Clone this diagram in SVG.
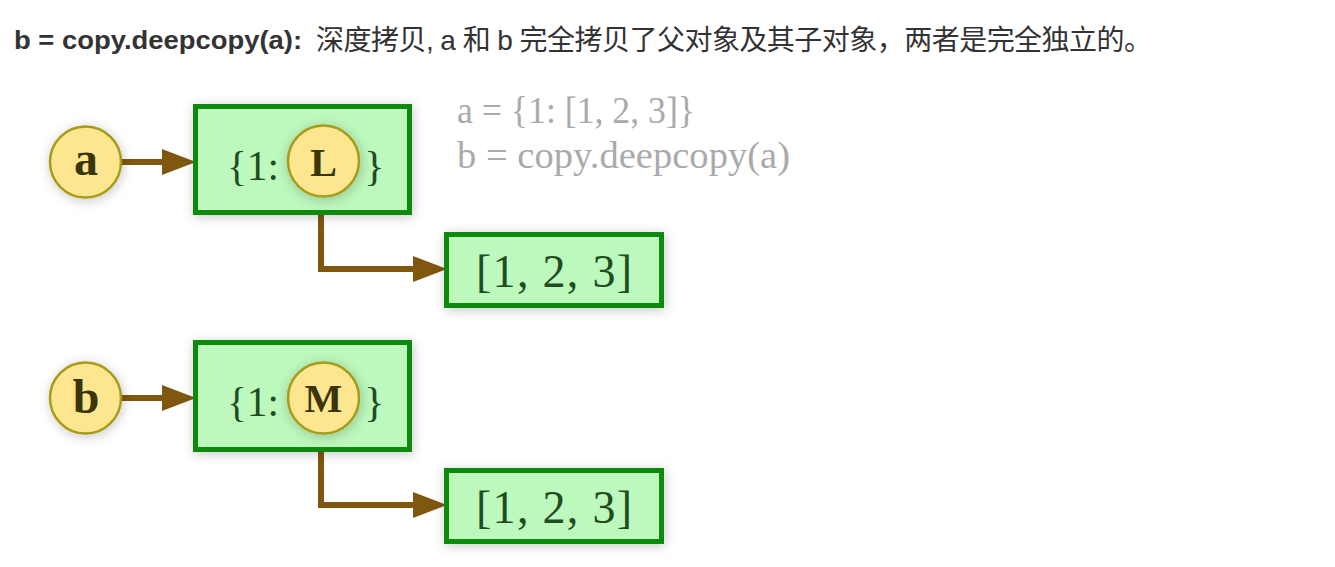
<svg xmlns="http://www.w3.org/2000/svg" width="1335" height="567" viewBox="0 0 1335 567">
<style>
.hdr{font-family:"Liberation Sans","Noto Sans CJK SC",sans-serif;fill:#333;}
.box{fill:#bdf8bd;stroke:#0b8a0b;stroke-width:5;filter:url(#sh);}
.ref{fill:#fde68f;stroke:#a69c1a;stroke-width:2.5;filter:url(#sh);}
.reft{font-family:"Liberation Serif",serif;font-weight:bold;fill:#3a3608;text-anchor:middle;}
.boxt{font-family:"Liberation Serif",serif;fill:#1f4d1f;}
.note{font-family:"Liberation Serif",serif;font-size:37px;fill:#aaaaaa;}
.conn{fill:none;stroke:#80570f;stroke-width:6;marker-end:url(#ah);}
</style>
<defs>
<filter id="sh" x="-30%" y="-30%" width="160%" height="160%">
<feDropShadow dx="1" dy="2" stdDeviation="6" flood-color="#000" flood-opacity="0.22"/>
</filter>
<marker id="ah" viewBox="0 0 34 26" refX="0" refY="13" markerWidth="34" markerHeight="26" markerUnits="userSpaceOnUse" orient="auto">
<path d="M0,0 L34,13 L0,26 z" fill="#80570f"/>
</marker>
</defs>
<rect width="1335" height="567" fill="#fff"/>
<g id="header">
<text class="hdr" x="14" y="49" font-size="25" font-weight="bold" textLength="288" lengthAdjust="spacingAndGlyphs">b = copy.deepcopy(a):</text>
<text class="hdr" x="316" y="50" font-size="28" textLength="836" lengthAdjust="spacing">深度拷贝, a 和 b 完全拷贝了父对象及其子对象，两者是完全独立的。</text>
</g>
<g id="note">
<text class="note" x="457" y="123" textLength="238" lengthAdjust="spacingAndGlyphs">a = {1: [1, 2, 3]}</text>
<text class="note" x="457" y="168" textLength="333" lengthAdjust="spacingAndGlyphs">b = copy.deepcopy(a)</text>
</g>
<g id="connectors">
<path class="conn" d="M122,162 H162"/>
<path class="conn" d="M321,198 V269 H413"/>
<path class="conn" d="M122,398 H162"/>
<path class="conn" d="M321,434 V505 H413"/>
</g>
<g id="dictA">
<rect class="box" x="195.5" y="106.5" width="214" height="106"/>
<text class="boxt" x="227" y="180" font-size="43" textLength="52" lengthAdjust="spacingAndGlyphs">{1:</text>
<text class="boxt" x="364" y="180" font-size="43">}</text>
</g>
<g id="listA">
<rect class="box" x="446.5" y="234.5" width="215" height="71"/>
<text class="boxt" x="476" y="287" font-size="46" textLength="156" lengthAdjust="spacing">[1, 2, 3]</text>
</g>
<g id="refL">
<circle class="ref" cx="323.5" cy="161" r="35.5"/>
<text class="reft" x="323.5" y="176" font-size="40">L</text>
</g>
<g id="refA">
<circle class="ref" cx="85.5" cy="162" r="35.5"/>
<text class="reft" x="86" y="175" font-size="48">a</text>
</g>
<g id="dictB">
<rect class="box" x="195.5" y="342.5" width="214" height="107"/>
<text class="boxt" x="227" y="416" font-size="43" textLength="52" lengthAdjust="spacingAndGlyphs">{1:</text>
<text class="boxt" x="364" y="416" font-size="43">}</text>
</g>
<g id="listB">
<rect class="box" x="446.5" y="470.5" width="215" height="71"/>
<text class="boxt" x="476" y="523" font-size="46" textLength="156" lengthAdjust="spacing">[1, 2, 3]</text>
</g>
<g id="refM">
<circle class="ref" cx="323.5" cy="398" r="35.5"/>
<text class="reft" x="323.5" y="412" font-size="40">M</text>
</g>
<g id="refB">
<circle class="ref" cx="85.5" cy="398" r="35.5"/>
<text class="reft" x="86" y="413" font-size="48">b</text>
</g>
</svg>
